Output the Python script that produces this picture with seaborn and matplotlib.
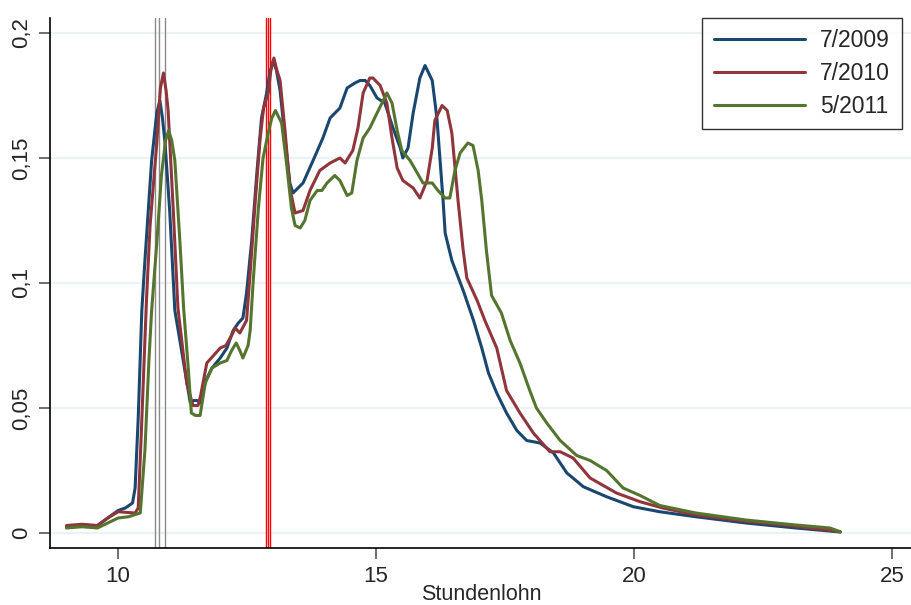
import numpy as np
import pandas as pd
import seaborn as sns
import matplotlib
matplotlib.use("Agg")
import matplotlib.pyplot as plt
from matplotlib.ticker import FuncFormatter

# ---- data ----
labels = ["7/2009", "7/2010", "5/2011"]

x_2009 = [9.0, 9.3, 9.6, 9.8, 10.0, 10.14, 10.28, 10.33, 10.39, 10.46, 10.52, 10.65, 10.75, 10.81,
          10.86, 10.91, 11.0, 11.1, 11.23, 11.4, 11.47, 11.53, 11.6, 11.7, 11.82, 11.98, 12.11,
          12.23, 12.33, 12.42, 12.49, 12.59, 12.69, 12.78, 12.88, 12.94, 13.01, 13.07, 13.14, 13.24,
          13.33, 13.39, 13.585, 13.78, 13.97, 14.11, 14.30, 14.44, 14.59, 14.69, 14.79, 14.88, 15.02,
          15.17, 15.33, 15.47, 15.52, 15.62, 15.72, 15.85, 15.95, 16.09, 16.18, 16.3, 16.34, 16.47,
          16.69, 16.89, 17.05, 17.18, 17.34, 17.53, 17.73, 17.92, 18.18, 18.44, 18.7, 19.02, 19.47,
          19.99, 20.5, 21.2, 22.17, 23.14, 24.0]
y_2009 = [0.0025, 0.003, 0.003, 0.006, 0.009, 0.010, 0.012, 0.018, 0.046, 0.089, 0.109, 0.149,
          0.168, 0.173, 0.166, 0.156, 0.129, 0.089, 0.073, 0.052, 0.053, 0.053, 0.052, 0.061, 0.066,
          0.07, 0.074, 0.081, 0.084, 0.086, 0.096, 0.117, 0.144, 0.166, 0.176, 0.184, 0.189, 0.185,
          0.177, 0.157, 0.14, 0.136, 0.14, 0.149, 0.158, 0.166, 0.170, 0.178, 0.180, 0.181, 0.181,
          0.179, 0.174, 0.172, 0.162, 0.154, 0.150, 0.154, 0.168, 0.182, 0.187, 0.181, 0.166, 0.133,
          0.12, 0.109, 0.097, 0.085, 0.074, 0.064, 0.056, 0.048, 0.041, 0.037, 0.036, 0.032, 0.024,
          0.0185, 0.0145, 0.0105, 0.0085, 0.0065, 0.004, 0.002, 0.0004]

x_2010 = [9.0, 9.3, 9.6, 9.8, 10.0, 10.33, 10.39, 10.45, 10.55, 10.62, 10.75, 10.82, 10.88, 10.93,
          10.97, 11.07, 11.16, 11.33, 11.45, 11.55, 11.6, 11.72, 11.98, 12.09, 12.2, 12.27, 12.36,
          12.49, 12.56, 12.66, 12.75, 12.82, 12.91, 12.96, 13.02, 13.08, 13.14, 13.24, 13.33, 13.43,
          13.585, 13.72, 13.91, 14.11, 14.3, 14.4, 14.55, 14.65, 14.75, 14.88, 14.94, 15.08, 15.21,
          15.31, 15.41, 15.52, 15.72, 15.85, 15.99, 16.09, 16.14, 16.28, 16.38, 16.47, 16.59, 16.69,
          16.76, 16.96, 17.11, 17.34, 17.53, 17.79, 18.05, 18.37, 18.57, 18.82, 19.15, 19.66, 20.12,
          20.56, 21.2, 22.17, 23.14, 24.0]
y_2010 = [0.003, 0.0035, 0.003, 0.006, 0.0085, 0.008, 0.010, 0.04, 0.093, 0.123, 0.156, 0.178,
          0.184, 0.177, 0.169, 0.129, 0.09, 0.06, 0.051, 0.051, 0.055, 0.068, 0.074, 0.075, 0.079,
          0.082, 0.080, 0.085, 0.104, 0.133, 0.157, 0.17, 0.176, 0.185, 0.19, 0.185, 0.181, 0.16,
          0.138, 0.128, 0.129, 0.137, 0.145, 0.148, 0.150, 0.148, 0.153, 0.162, 0.176, 0.182, 0.182,
          0.179, 0.172, 0.158, 0.146, 0.141, 0.138, 0.134, 0.141, 0.154, 0.165, 0.171, 0.169, 0.16,
          0.133, 0.113, 0.102, 0.093, 0.085, 0.074, 0.057, 0.048, 0.04, 0.0325, 0.0325, 0.030, 0.022,
          0.016, 0.0125, 0.010, 0.0072, 0.0047, 0.0027, 0.0005]

x_2011 = [9.0, 9.3, 9.6, 9.8, 10.0, 10.2, 10.43, 10.52, 10.6, 10.65, 10.75, 10.84, 10.92, 10.98,
          11.04, 11.1, 11.2, 11.27, 11.36, 11.42, 11.5, 11.59, 11.69, 11.82, 11.98, 12.11, 12.2,
          12.29, 12.36, 12.42, 12.52, 12.56, 12.62, 12.72, 12.81, 12.91, 12.98, 13.05, 13.17, 13.27,
          13.36, 13.43, 13.53, 13.62, 13.72, 13.86, 13.95, 14.05, 14.2, 14.3, 14.44, 14.53, 14.63,
          14.75, 14.88, 15.02, 15.14, 15.21, 15.31, 15.41, 15.5, 15.66, 15.8, 15.91, 16.09, 16.2,
          16.34, 16.43, 16.53, 16.63, 16.78, 16.88, 16.98, 17.05, 17.14, 17.24, 17.43, 17.6, 17.79,
          17.98, 18.11, 18.31, 18.57, 18.89, 19.15, 19.47, 19.79, 20.12, 20.5, 21.2, 22.17, 23.14,
          23.8, 24.0]
y_2011 = [0.002, 0.0025, 0.002, 0.004, 0.006, 0.0065, 0.008, 0.033, 0.07, 0.089, 0.116, 0.143,
          0.157, 0.161, 0.157, 0.149, 0.116, 0.09, 0.066, 0.048, 0.047, 0.047, 0.06, 0.066, 0.068,
          0.069, 0.073, 0.076, 0.073, 0.07, 0.075, 0.081, 0.101, 0.13, 0.15, 0.16, 0.166, 0.169,
          0.164, 0.147, 0.13, 0.123, 0.122, 0.125, 0.133, 0.137, 0.137, 0.14, 0.143, 0.141, 0.135,
          0.136, 0.149, 0.158, 0.162, 0.168, 0.173, 0.176, 0.172, 0.161, 0.153, 0.149, 0.144, 0.14,
          0.14, 0.137, 0.134, 0.134, 0.145, 0.152, 0.156, 0.155, 0.145, 0.133, 0.113, 0.095, 0.088,
          0.077, 0.068, 0.057, 0.05, 0.044, 0.037, 0.031, 0.029, 0.025, 0.018, 0.015, 0.011, 0.008,
          0.0052, 0.0032, 0.002, 0.0005]

grey_lines = [10.71, 10.80, 10.90]
red_lines = [12.86, 12.91, 12.95]

x_ticks = [10, 15, 20, 25]
y_ticks = [0, 0.05, 0.1, 0.15, 0.2]

# ---- build long-form table ----
df = pd.concat([
    pd.DataFrame({"Stundenlohn": x_2009, "Dichte": y_2009, "Welle": labels[0]}),
    pd.DataFrame({"Stundenlohn": x_2010, "Dichte": y_2010, "Welle": labels[1]}),
    pd.DataFrame({"Stundenlohn": x_2011, "Dichte": y_2011, "Welle": labels[2]}),
], ignore_index=True)

sns.set_theme(style="white")
plt.rcParams["font.family"] = ["Liberation Sans", "DejaVu Sans"]

palette = {labels[0]: "#1a476f", labels[1]: "#90353b", labels[2]: "#55752f"}

fig = plt.figure(figsize=(9.12, 6.05), dpi=100)
ax = fig.add_axes([50 / 912, 57 / 605, 862 / 912, 530 / 605])

for y in y_ticks:
    ax.axhline(y, color="#eaf2f3", lw=1.6, zorder=0)

for xv in grey_lines:
    ax.axvline(xv, color="#8a8a8a", lw=1.0, zorder=1)
for xv in red_lines:
    ax.axvline(xv, color="#ff0000", lw=1.0, zorder=1)

sns.lineplot(data=df, x="Stundenlohn", y="Dichte", hue="Welle", palette=palette,
             hue_order=labels, estimator=None, sort=False, lw=2.2, ax=ax, zorder=3)
for ln in ax.get_lines():
    ln.set_solid_joinstyle("round")

ax.set_xlim(8.68, 25.39)
ax.set_ylim(-0.006, 0.206)
ax.set_xticks(x_ticks)
ax.set_yticks(y_ticks)
ax.yaxis.set_major_formatter(FuncFormatter(lambda v, p: ("%g" % v).replace(".", ",")))
ax.tick_params(axis="both", which="major", direction="out", length=8, width=1.2,
               color="#555555", labelsize=16, bottom=True, left=True, pad=5)
for lab in ax.get_yticklabels():
    lab.set_rotation(90)
    lab.set_va("center")

ax.set_xlabel("Stundenlohn", fontsize=15.5, labelpad=-2)
ax.set_ylabel("")

for s in ["top", "right"]:
    ax.spines[s].set_visible(False)
for s in ["left", "bottom"]:
    ax.spines[s].set_color("black")
    ax.spines[s].set_linewidth(1.2)

leg = ax.legend(loc="upper right", bbox_to_anchor=(0.988, 1.0), borderaxespad=0,
                fontsize=16.5, handlelength=4.0, frameon=True, fancybox=False,
                edgecolor="black", title=None, borderpad=0.5, labelspacing=0.42,
                handletextpad=0.65)
leg.get_frame().set_linewidth(1.0)
for line in leg.get_lines():
    line.set_linewidth(2.2)

fig.savefig("out.png", dpi=100, facecolor="white")
